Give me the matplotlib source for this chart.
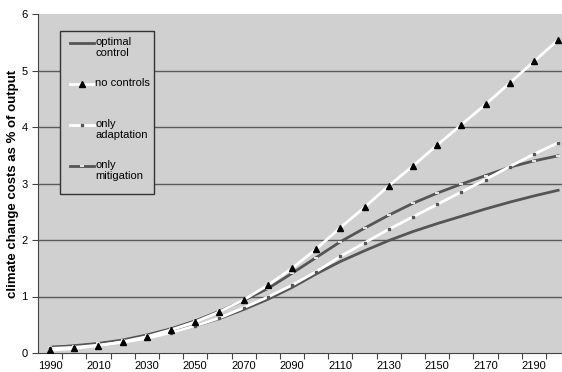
import numpy as np
import matplotlib.pyplot as plt
from matplotlib.lines import Line2D
from matplotlib.patches import Rectangle

plt.rcParams['font.family'] = ['Liberation Sans', 'DejaVu Sans']

years = np.arange(1990, 2201, 10)

optimal = [0.10, 0.12, 0.16, 0.21, 0.28, 0.37, 0.48, 0.61, 0.77, 0.95, 1.16,
           1.40, 1.62, 1.81, 1.99, 2.15, 2.29, 2.42, 2.55, 2.67, 2.78, 2.88]
no_ctrl = [0.05, 0.08, 0.13, 0.20, 0.29, 0.41, 0.55, 0.73, 0.94, 1.20, 1.50,
           1.84, 2.22, 2.58, 2.96, 3.31, 3.68, 4.04, 4.40, 4.78, 5.16, 5.54]
adapt = [0.08, 0.10, 0.14, 0.19, 0.26, 0.36, 0.48, 0.62, 0.80, 0.99, 1.20,
         1.44, 1.71, 1.95, 2.19, 2.41, 2.63, 2.85, 3.07, 3.30, 3.52, 3.72]
mitig = [0.10, 0.13, 0.17, 0.23, 0.32, 0.43, 0.57, 0.74, 0.93, 1.14, 1.41,
         1.69, 1.97, 2.21, 2.44, 2.65, 2.83, 2.99, 3.14, 3.29, 3.40, 3.49]

xlabels = np.arange(1990, 2191, 20)

dark = '#555555'
bg = '#d0d0d0'

W, H = 562, 372
fig = plt.figure(figsize=(W / 100, H / 100), dpi=100)
ax = fig.add_axes([38 / W, 19 / H, 1 - 38 / W, 339 / H])
ax.set_facecolor(bg)

ax.set_xlim(1985, 2201.6)
ax.set_ylim(0, 6)

for v in range(1, 6):
    ax.axhline(v, color='#5a5a5a', lw=1, zorder=1)

ax.plot(years, optimal, color=dark, lw=2, zorder=3)
ax.plot(years, mitig, color=dark, lw=2, marker='_', ms=3, mec='white', mew=1.2, zorder=3)
ax.plot(years, adapt, color='white', lw=2, marker='s', ms=1.5, mfc=dark, mec=dark, zorder=4)
ax.plot(years, no_ctrl, color='white', lw=2, marker='^', ms=5, mfc='black', mec='black', zorder=5)

# category style axis: tick marks between decades, labels on every other decade
ax.set_xticks(np.arange(1995, 2201, 10))
ax.set_xticklabels([])
ax.set_xticks(xlabels, minor=True)
ax.set_xticklabels([str(y) for y in xlabels], minor=True, fontsize=8)
ax.tick_params(axis='x', which='major', length=4, direction='out', color='#444444')
ax.tick_params(axis='x', which='minor', length=0, pad=6)
ax.set_yticks(range(0, 7))
ax.tick_params(axis='y', length=4, labelsize=8, color='#444444')

for s in ['top', 'right']:
    ax.spines[s].set_visible(False)
ax.spines['left'].set_color('#444444')
ax.spines['bottom'].set_color('#444444')

ax.set_ylabel('climate change costs as % of output', fontsize=9.5, fontweight='bold')
ax.yaxis.set_label_coords(-0.036, 0.5)


# legend box drawn in figure pixels
def fx(px):
    return px / W


def fy(py):
    return 1 - py / H


fig.patches.append(Rectangle((fx(60), fy(194)), fx(154) - fx(60), fy(31) - fy(194),
                             transform=fig.transFigure, facecolor=bg, edgecolor='#333333',
                             lw=1, zorder=6))

entries = [
    (43, 'optimal\ncontrol', dict(color=dark, lw=2)),
    (84, 'no controls', dict(color='white', lw=2, marker='^', ms=5, mfc='black', mec='black',
                             markevery=[1])),
    (125, 'only\nadaptation', dict(color='white', lw=2, marker='s', ms=1.5, mfc=dark, mec=dark,
                                   markevery=[1])),
    (166, 'only\nmitigation', dict(color=dark, lw=2, marker='_', ms=3, mec='white', mew=1.2,
                                   markevery=[1])),
]
for py, label, style in entries:
    fig.lines.append(Line2D([fx(70), fx(82), fx(94)], [fy(py)] * 3,
                            transform=fig.transFigure, zorder=7, **style))
    fig.text(fx(95), fy(py - 6), label, fontsize=8, va='top', ha='left',
             linespacing=1.15, zorder=7)

fig.savefig('out.png', dpi=100)
